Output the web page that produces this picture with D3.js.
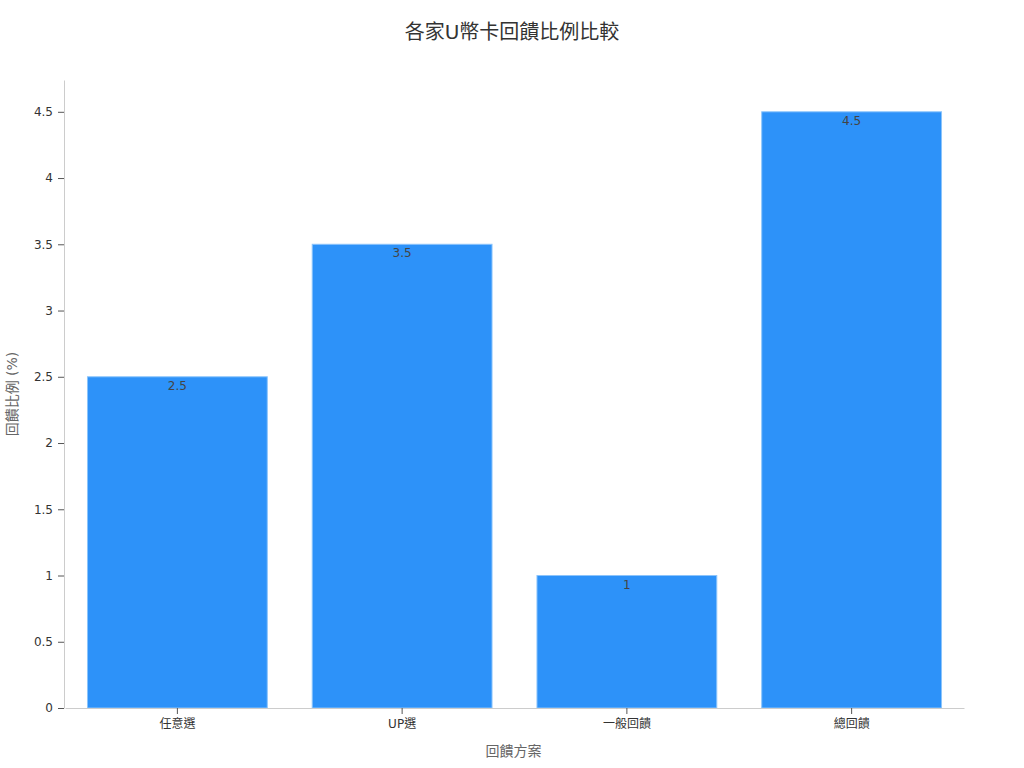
<!DOCTYPE html>
<html>
<head>
<meta charset="utf-8">
<script src="https://cdn.jsdelivr.net/npm/d3@7"></script>
<style>
  body { margin: 0; background: #fff; font-family: "DejaVu Sans", "Noto Sans CJK TC", sans-serif; }
  .axis text { font-size: 12px; fill: #333; font-family: "DejaVu Sans", "Noto Sans CJK TC", sans-serif; }
  .axis path { stroke: #ccc; }
  .axis line { stroke: #555; }
</style>
</head>
<body>
<div id="chart"></div>
<script>
// chart data
const categories = ["任意選", "UP選", "一般回饋", "總回饋"];
const rates = [2.5, 3.5, 1, 4.5];
const yTicks = [0, 0.5, 1, 1.5, 2, 2.5, 3, 3.5, 4, 4.5];

const width = 1024, height = 768;
const margin = {top: 80, right: 61, bottom: 60, left: 64};
const innerW = width - margin.left - margin.right;
const innerH = height - margin.top - margin.bottom;

const svg = d3.select("#chart").append("svg")
    .attr("width", width)
    .attr("height", height);

const g = svg.append("g")
    .attr("transform", "translate(" + margin.left + "," + margin.top + ")");

// scales
const x = d3.scaleBand()
    .domain(categories)
    .range([1, innerW + 1])
    .paddingInner(0.2)
    .paddingOuter(0.1);
const y = d3.scaleLinear()
    .domain([0, 4.74])
    .range([innerH, 0]);

// bars
g.selectAll(".bar")
    .data(categories)
    .enter().append("rect")
    .attr("class", "bar")
    .attr("x", d => x(d))
    .attr("y", (d, i) => y(rates[i]))
    .attr("width", x.bandwidth())
    .attr("height", (d, i) => innerH - y(rates[i]))
    .attr("fill", "#2d92f9")
    .attr("stroke", "#8cc4fb")
    .attr("stroke-width", 1);

// value labels inside top of each bar
g.selectAll(".val")
    .data(categories)
    .enter().append("text")
    .attr("class", "val")
    .attr("x", d => x(d) + x.bandwidth() / 2)
    .attr("y", (d, i) => y(rates[i]) + 13)
    .attr("text-anchor", "middle")
    .style("font-size", "12px")
    .style("fill", "#444")
    .text((d, i) => rates[i]);

// axes
g.append("g")
    .attr("class", "axis")
    .attr("transform", "translate(0," + innerH + ")")
    .call(d3.axisBottom(x).tickSizeOuter(0).tickPadding(5));
g.append("g")
    .attr("class", "axis")
    .call(d3.axisLeft(y).tickValues(yTicks).tickFormat(d3.format("")).tickSizeOuter(0).tickPadding(5));

// title and axis labels
svg.append("text")
    .attr("x", width / 2)
    .attr("y", 39)
    .attr("text-anchor", "middle")
    .style("font-size", "20px")
    .style("fill", "#333")
    .text("各家U幣卡回饋比例比較");

svg.append("text")
    .attr("x", margin.left + innerW / 2)
    .attr("y", 756)
    .attr("text-anchor", "middle")
    .style("font-size", "14px")
    .style("fill", "#666")
    .text("回饋方案");

svg.append("text")
    .attr("transform", "translate(17," + (margin.top + innerH / 2) + ") rotate(-90)")
    .attr("text-anchor", "middle")
    .style("font-size", "14px")
    .style("fill", "#666")
    .text("回饋比例 (%)");
</script>
</body>
</html>
